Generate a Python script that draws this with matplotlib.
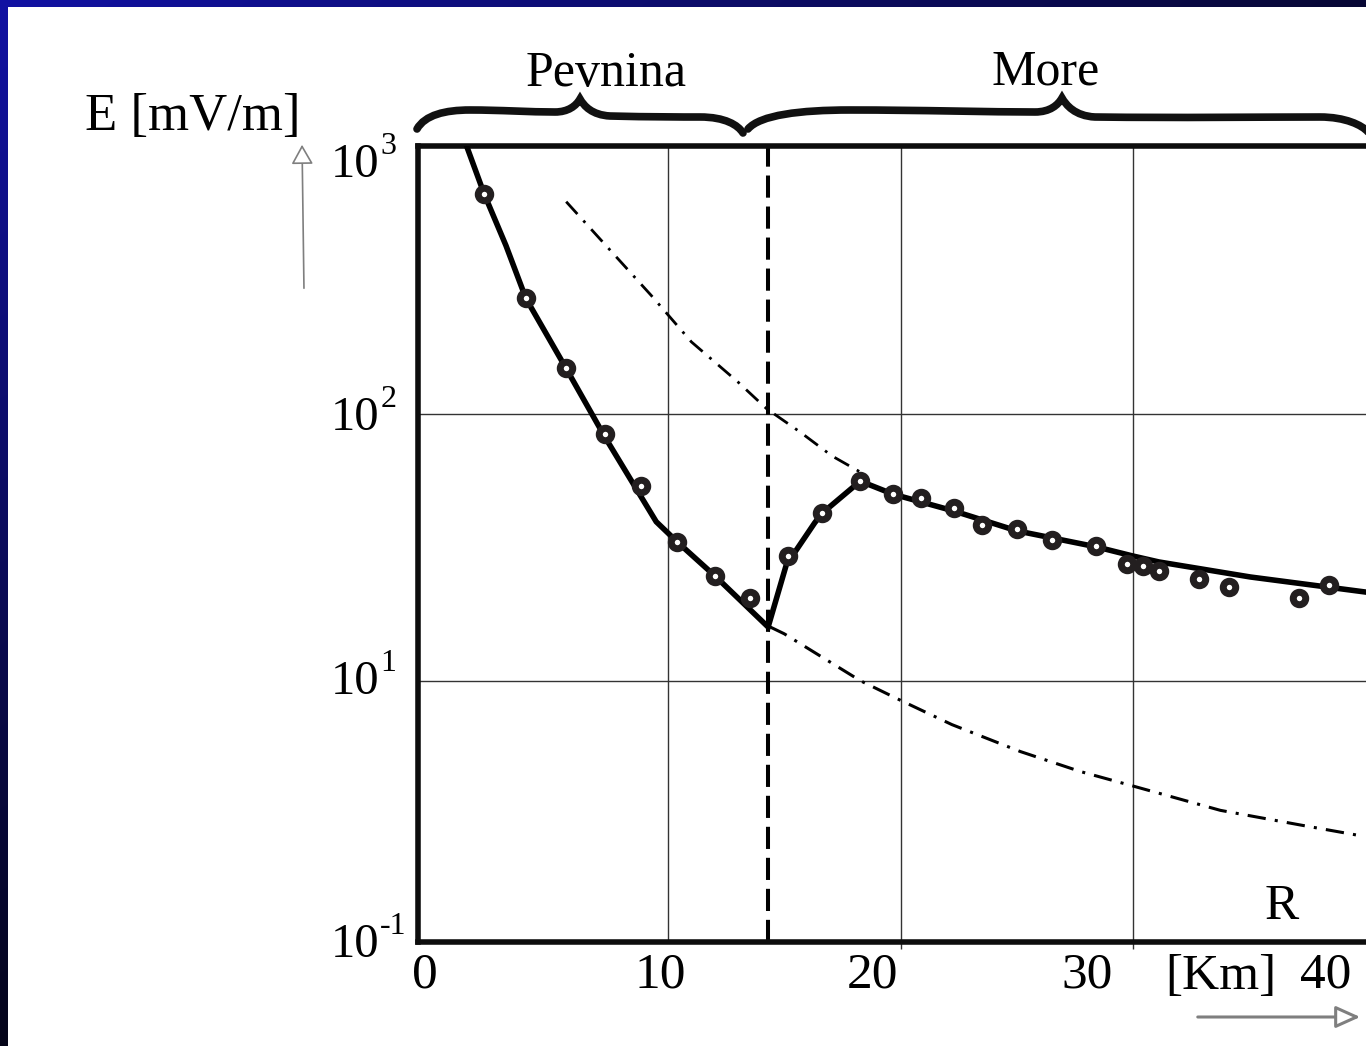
import numpy as np
import matplotlib
matplotlib.use("Agg")
import matplotlib.pyplot as plt
from matplotlib.path import Path
from matplotlib.patches import PathPatch, FancyArrowPatch
import matplotlib.transforms as mtransforms

plt.rcParams['font.family'] = ['Liberation Serif', 'DejaVu Serif']

# measured field strength (circles)
meas_km = [2.09, 3.89, 5.61, 7.29, 8.84, 10.39, 12.02, 13.53,
           15.16, 16.62, 18.26, 19.68, 20.88, 22.30, 23.50, 25.00,
           26.50, 28.40, 29.74, 30.43, 31.12, 32.80, 34.10, 37.10, 38.40]
meas_E = [673, 272, 149, 84, 53.7, 33.2, 24.7, 20.5,
          29.4, 42.5, 56.1, 50.1, 48.4, 44.5, 38.4, 37.1,
          33.7, 32.1, 27.4, 27.0, 25.8, 24.1, 22.5, 20.5, 22.9]

# computed curve land -> sea (solid)
curve_km = [1.20, 1.35, 2.09, 3.03, 3.89, 5.61, 7.29, 9.49, 10.39, 12.02, 14.30,
            15.08, 16.30, 16.62, 18.26, 19.68, 22.30, 25.00, 28.40, 29.96, 31.10,
            35.03, 40.00]
curve_E = [1100, 1010, 673, 430, 272, 149, 82, 39.5, 33.2, 24.7, 15.9,
           27.2, 39.1, 42.5, 56.1, 50.1, 43.3, 36.5, 31.8, 29.4, 27.9,
           24.5, 21.5]

# sea only curve (dash-dot, upper)
sea_km = [5.62, 7.85, 9.28, 11.00, 13.01, 14.23, 15.68, 17.05, 18.26]
sea_E = [628, 383, 279, 187, 132, 105, 85.7, 69.7, 60.7]

# land only curve (dash-dot, lower)
land_km = [14.39, 14.99, 18.26, 20.00, 22.20, 25.14, 27.72, 30.04, 33.74, 37.20, 39.85]
land_E = [15.9, 15.0, 10.0, 8.43, 6.84, 5.42, 4.56, 4.01, 3.26, 2.87, 2.61]

coast_km = 14.3

x_ticks = [0, 10, 20, 30, 40]
xlabel_pos = [-0.45, 9.66, 18.77, 28.02, 38.26]
y_ticks = [1000, 100, 10, 1]
y_exps = ['3', '2', '1', '-1']
y_shift = [-17, -4, -1, 2]

W, H = 1366, 1046
fig = plt.figure(figsize=(W / 100.0, H / 100.0), dpi=100)
fig.patch.set_facecolor('white')

# blue slide frame
xs = np.arange(W) / float(W)
ys = np.arange(H) / float(H)
t = np.clip(xs[None, :] * 0.8 + ys[:, None] * 1.0, 0, 1)
c0 = np.array([0.07, 0.07, 0.64])
c1 = np.array([0.02, 0.02, 0.10])
img = c0[None, None, :] * (1 - t[:, :, None]) + c1[None, None, :] * t[:, :, None]
img[7:, 8:, :] = 1.0
fig.figimage(img, xo=0, yo=0, origin='upper', zorder=-5)

def fx(px):
    return px / float(W)

def fy(py):
    return 1 - py / float(H)

ax = fig.add_axes([fx(418), fy(942), fx(1366) - fx(418), fy(146) - fy(942)])
ax.set_zorder(2)
ax.set_facecolor('white')
ax.set_yscale('log')
ax.set_xlim(-0.75, 40.0)
ax.set_ylim(10 ** 0.019, 10 ** 3.007)

for s in ['left', 'top', 'bottom']:
    ax.spines[s].set_linewidth(4.0)
    ax.spines[s].set_color('#0d0d0d')
ax.spines['right'].set_visible(False)

for v in [10, 20, 30]:
    ax.axvline(v, color='#333333', lw=1.0, zorder=1)
for v in [10, 100]:
    ax.axhline(v, color='#333333', lw=1.0, zorder=1)

ax.set_xticks([20, 30])
ax.set_xticklabels([])
ax.tick_params(axis='x', direction='out', length=5, width=1.0, color='#333333')
ax.set_yticks([])
ax.minorticks_off()
ax.tick_params(axis='y', which='both', left=False, labelleft=False)

# coast line
ax.axvline(coast_km, color='black', lw=2.9, dashes=(5.5, 2.2), zorder=2)

ax.plot(sea_km, sea_E, color='black', lw=2.0, dashes=(6, 3.2, 1, 3.2), zorder=3)
ax.plot(land_km, land_E, color='black', lw=2.2, dashes=(6, 3.0, 1, 3.0), zorder=3)
ax.plot(curve_km, curve_E, color='black', lw=4.0, solid_joinstyle='miter', zorder=4)
ax.plot(meas_km, meas_E, 'o', ms=9, mfc='white', mec='#231f20', mew=5, zorder=5)

# y labels, left aligned like the original
trans_y = mtransforms.blended_transform_factory(fig.transFigure, ax.transData)
for val, ex, sh in zip(y_ticks, y_exps, y_shift):
    tt = ax.annotate('10', xy=(fx(331), val), xycoords=trans_y,
                     xytext=(0, sh * 0.72), textcoords='offset points',
                     ha='left', va='center', fontsize=35, annotation_clip=False)
    ax.annotate(ex, xy=(1.0, 1.0), xycoords=tt, xytext=(0.5, 8),
                textcoords='offset points', ha='left', va='top', fontsize=23,
                annotation_clip=False)

trans_x = mtransforms.blended_transform_factory(ax.transData, fig.transFigure)
for pos, lab in zip(xlabel_pos, x_ticks):
    ax.text(pos, fy(975), str(lab), transform=trans_x, ha='center', va='center',
            fontsize=37, clip_on=False)

fig.text(fx(1221), fy(977), '[Km]', ha='center', va='center', fontsize=37)
ax.text(fx(1282), fy(907), 'R', transform=fig.transFigure, ha='center', va='center', fontsize=37)
fig.text(fx(193), fy(117), 'E [mV/m]', ha='center', va='center', fontsize=38)
fig.text(fx(606), fy(74), 'Pevnina', ha='center', va='center', fontsize=36)
fig.text(fx(1046), fy(72), 'More', ha='center', va='center', fontsize=36)

# axis arrows
arr1 = FancyArrowPatch((fx(1195), fy(1017)), (fx(1363), fy(1017)), transform=fig.transFigure,
                       arrowstyle='-|>,head_length=10,head_width=4.5', mutation_scale=1.5,
                       lw=2.2, ec='#7f7f7f', fc='white')
fig.patches.append(arr1)
arr2 = FancyArrowPatch((fx(304), fy(291)), (fx(302), fy(142)), transform=fig.transFigure,
                       arrowstyle='-|>,head_length=8,head_width=4.5', mutation_scale=1.5,
                       lw=1.2, ec='#7f7f7f', fc='white')
fig.patches.append(arr2)

# curly braces above the plot
def brace(pts):
    verts = [(fx(p[0]), fy(p[1])) for p in pts]
    codes = [Path.MOVETO] + [Path.CURVE4] * (len(verts) - 1)
    return PathPatch(Path(verts, codes), transform=fig.transFigure, fill=False,
                     lw=5.5, ec='#111111', capstyle='round')

pev = [(417, 129), (425, 115), (445, 110), (470, 110),
       (500, 110), (530, 112), (555, 112),
       (568, 112), (576, 106), (580, 99),
       (584, 106), (592, 115), (610, 116),
       (650, 117), (680, 117), (700, 117),
       (725, 117), (738, 125), (743, 133)]
mor = [(748, 129), (760, 115), (800, 110), (850, 110),
       (920, 110), (990, 112), (1035, 112),
       (1050, 112), (1058, 105), (1062, 98),
       (1066, 105), (1075, 116), (1095, 117),
       (1180, 118), (1260, 117), (1320, 117),
       (1345, 117), (1362, 125), (1368, 132)]
fig.patches.append(brace(pev))
fig.patches.append(brace(mor))

fig.savefig('out.png', dpi=100, facecolor='white')
